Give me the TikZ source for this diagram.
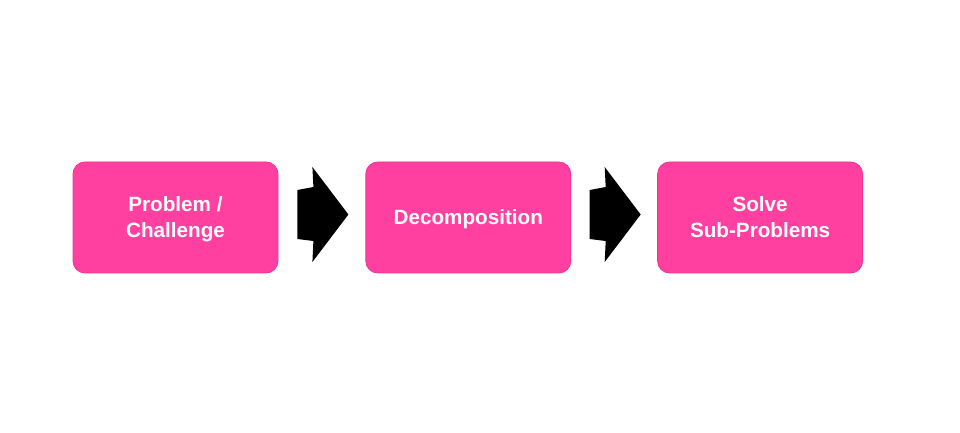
\documentclass[tikz,border=0pt]{standalone}
\usepackage{fontspec}
\setmainfont{Liberation Sans}
\usetikzlibrary{positioning,calc}
\definecolor{stagepink}{RGB}{255,64,160}
\definecolor{stageedge}{RGB}{240,50,145}
\tikzset{
  stage/.style={draw=stageedge, line width=0.6pt, fill=stagepink, rounded corners=9pt,
    minimum width=153.75pt, minimum height=83.25pt, inner sep=0pt, align=center,
    text depth=-1pt, text=white, font=\bfseries\fontsize{15.5}{19.5}\selectfont},
  blockarr/.pic={
    \fill[black] (-25,24.5) -- (-9,27.5) -- (-10,47.5) -- (26,0) -- (-10,-47.5)
      -- (-9,-26.5) -- (-25,-24.5) -- cycle;
  }
}
\begin{document}
\begin{tikzpicture}[x=0.75pt, y=0.75pt]
  \useasboundingbox (0,0) rectangle (960,432);
  \node[stage] (prob) at (175.5,214.5) {Problem /\\Challenge};
  \node[stage, right=65.25pt of prob] (dec) {Decomposition};
  \node[stage, right=64.5pt of dec] (solve) {Solve\\Sub-Problems};
  % arrows between the stages
  \coordinate (g1) at ($(prob.east)!0.5!(dec.west)+(0.5,3)$);
  \coordinate (g2) at ($(dec.east)!0.5!(solve.west)+(0.5,3)$);
  \pic at (g1) {blockarr};
  \pic at (g2) {blockarr};
\end{tikzpicture}
\end{document}
